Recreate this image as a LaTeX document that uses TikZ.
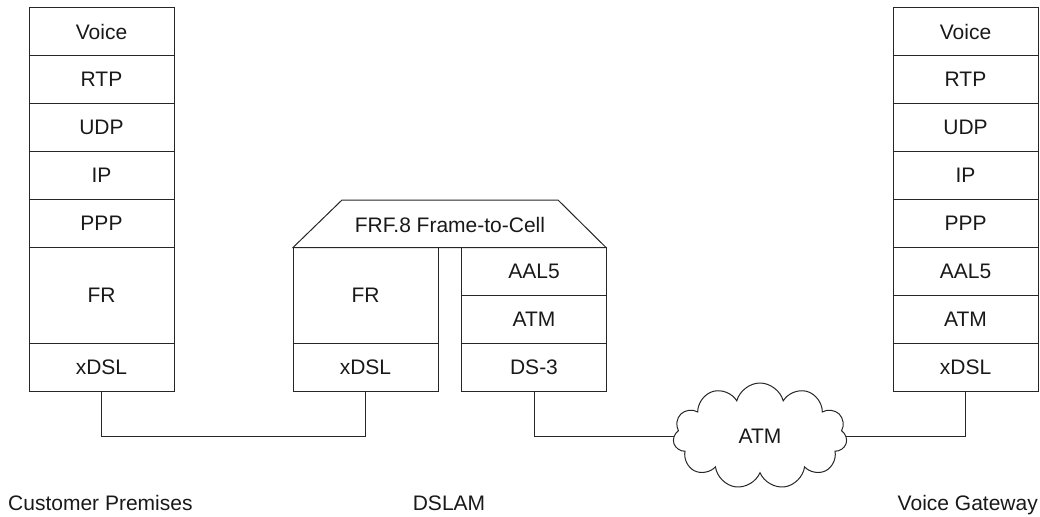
\documentclass[tikz,border=0pt]{standalone}
\usepackage{fontspec}
\setmainfont{Liberation Sans}
\usetikzlibrary{shapes.symbols}
\begin{document}
\begin{tikzpicture}[x=1pt,y=-1pt,
  every node/.style={font=\fontsize{21}{24}\selectfont, text=black!90},
  layer/.style={draw=black!85, line width=1pt, rectangle, minimum width=145pt, minimum height=48pt, inner sep=0pt, anchor=center},
  tall/.style={layer, minimum height=96pt},
  link/.style={draw=black!85, line width=1pt},
  caption/.style={inner sep=0pt}
]
\useasboundingbox (0,0) rectangle (1040,516);

% Customer premises stack
\node[layer] (cVoice) at (101.5,31.5) {Voice};
\node[layer] (cRTP)   at (101.5,79.5) {RTP};
\node[layer] (cUDP)   at (101.5,127.5) {UDP};
\node[layer] (cIP)    at (101.5,175.5) {IP};
\node[layer] (cPPP)   at (101.5,223.5) {PPP};
\node[tall]  (cFR)    at (101.5,295.5) {FR};
\node[layer] (cX)     at (101.5,367.5) {xDSL};

% DSLAM
\draw[link] (293,247.5) -- (342,200) -- (558,200) -- (606,247.5) -- cycle;
\node[caption] (frf) at (450,225) {FRF.8 Frame-to-Cell};
\node[tall]  (dFR)  at (365.5,295.5) {FR};
\node[layer] (dX)   at (365.5,367.5) {xDSL};
\node[layer] (dAAL) at (534,271.5) {AAL5};
\node[layer] (dATM) at (534,319.5) {ATM};
\node[layer] (dDS)  at (534,367.5) {DS-3};

% Voice gateway stack
\node[layer] (gVoice) at (965.5,31.5) {Voice};
\node[layer] (gRTP)   at (965.5,79.5) {RTP};
\node[layer] (gUDP)   at (965.5,127.5) {UDP};
\node[layer] (gIP)    at (965.5,175.5) {IP};
\node[layer] (gPPP)   at (965.5,223.5) {PPP};
\node[layer] (gAAL)   at (965.5,271.5) {AAL5};
\node[layer] (gATM)   at (965.5,319.5) {ATM};
\node[layer] (gX)     at (965.5,367.5) {xDSL};

% ATM cloud
\node[cloud, draw=black!85, line width=1pt, cloud puffs=11, aspect=1.65,
      minimum width=174pt, minimum height=106pt, inner sep=0pt] (atm) at (760,436) {ATM};

% connectors
\draw[link] (cX.south) -- (cX.south |- atm.west) -| (dX.south);
\draw[link] (dDS.south) |- (atm.west);
\draw[link] (gX.south) |- (atm.east);

% captions
\node[caption, anchor=base west] (cp) at (8,510) {Customer Premises};
\node[caption, anchor=base] (dslam) at (449,510) {DSLAM};
\node[caption, anchor=base east] (vg) at (1038,510) {Voice Gateway};
\end{tikzpicture}
\end{document}
